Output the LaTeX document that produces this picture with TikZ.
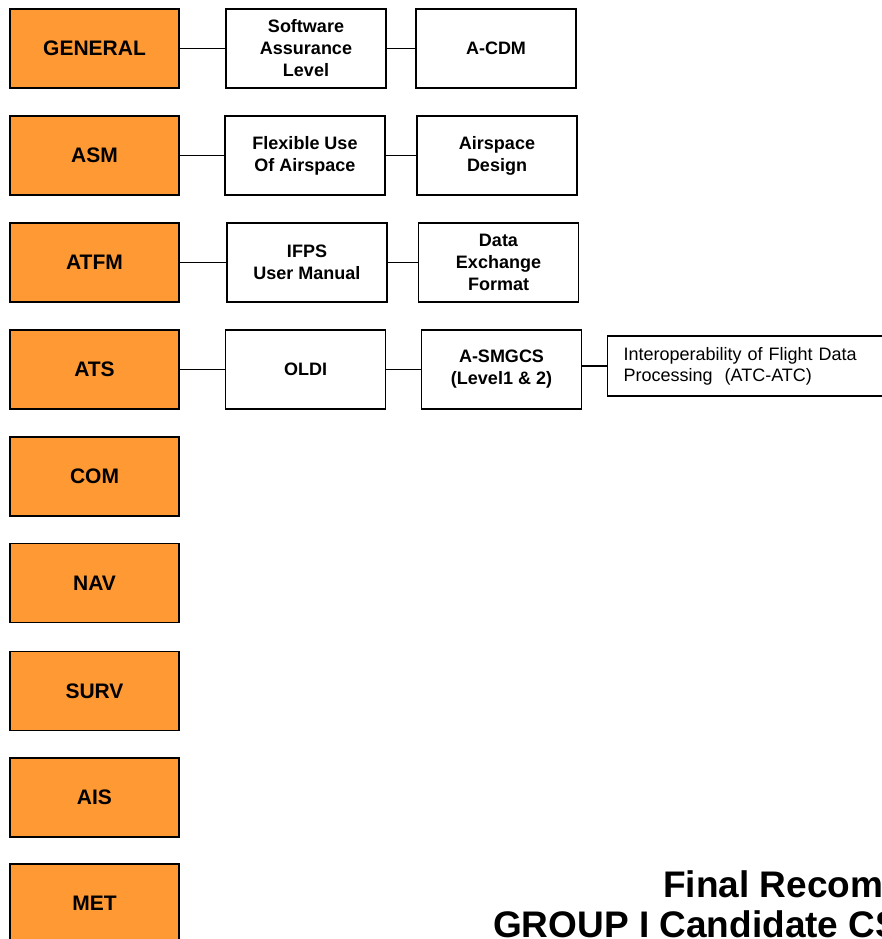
\documentclass[tikz,border=0pt]{standalone}
\usepackage{fontspec}
\setmainfont{Liberation Sans}
\definecolor{areaorange}{RGB}{255,153,51}
\tikzset{
  area/.style={draw=black, line width=1.3pt, fill=areaorange,
    minimum width=169pt, minimum height=79pt, inner sep=0pt,
    font=\fontsize{21}{25}\selectfont\bfseries},
  topic/.style={draw=black, line width=1.2pt, fill=white,
    minimum width=160pt, minimum height=79pt, inner sep=0pt, align=center,
    font=\fontsize{18}{22}\selectfont\bfseries},
  note/.style={draw=black, line width=1.2pt, fill=white, anchor=west,
    minimum height=60pt, text width=262pt, inner xsep=16pt, inner ysep=0pt,
    align=left, font=\fontsize{18}{21}\selectfont},
  link/.style={draw=black, line width=1.4pt},
  title/.style={anchor=base west, inner sep=0pt,
    font=\fontsize{37}{40}\selectfont\bfseries}
}
\begin{document}
\begin{tikzpicture}[x=1pt, y=-1pt]
  \useasboundingbox (0,0) rectangle (882,939);
  \clip (0,0) rectangle (882,939);
  \fill[white] (0,0) rectangle (882,939);

  % domain boxes on the left
  \node[area] (general) at (94.5,48.5)  {GENERAL};
  \node[area] (asm)     at (94.5,155.5) {ASM};
  \node[area] (atfm)    at (94.5,262.5) {ATFM};
  \node[area] (ats)     at (94.5,369.5) {ATS};
  \node[area] (com)     at (94.5,476.5) {COM};
  \node[area] (nav)     at (94.5,583)   {NAV};
  \node[area] (surv)    at (94.5,691)   {SURV};
  \node[area] (ais)     at (94.5,797.5) {AIS};
  \node[area] (met)     at (94.5,903.5) {MET};

  % candidate topics
  \node[topic] (sal)    at (306,48.5)   {Software\\Assurance\\Level};
  \node[topic] (acdm)   at (496,48.5)   {A-CDM};
  \node[topic] (fua)    at (305,155.5)  {Flexible Use\\Of Airspace};
  \node[topic] (asd)    at (497,155.5)  {Airspace\\Design};
  \node[topic] (ifps)   at (307,262.5)  {IFPS\\User Manual};
  \node[topic] (def)    at (498.5,262.5){Data\\Exchange\\Format};
  \node[topic] (oldi)   at (305.5,369.5){OLDI};
  \node[topic] (asmgcs) at (501.5,369.5){A-SMGCS\\(Level1 \& 2)};
  \node[note]  (fdp)    at (607,366)    {Interoperability of Flight Data\\Processing\ \ (ATC-ATC)};

  % connectors
  \draw[link] (general) -- (sal);
  \draw[link] (sal) -- (acdm);
  \draw[link] (asm) -- (fua);
  \draw[link] (fua) -- (asd);
  \draw[link] (atfm) -- (ifps);
  \draw[link] (ifps) -- (def);
  \draw[link] (ats) -- (oldi);
  \draw[link] (oldi) -- (asmgcs);
  \draw[link] (asmgcs.east |- fdp.west) -- (fdp.west);

  % title
  \node[title] (t1) at (663,897) {Final Recom};
  \node[title] (t2) at (493,937) {GROUP I Candidate CS};
\end{tikzpicture}
\end{document}
